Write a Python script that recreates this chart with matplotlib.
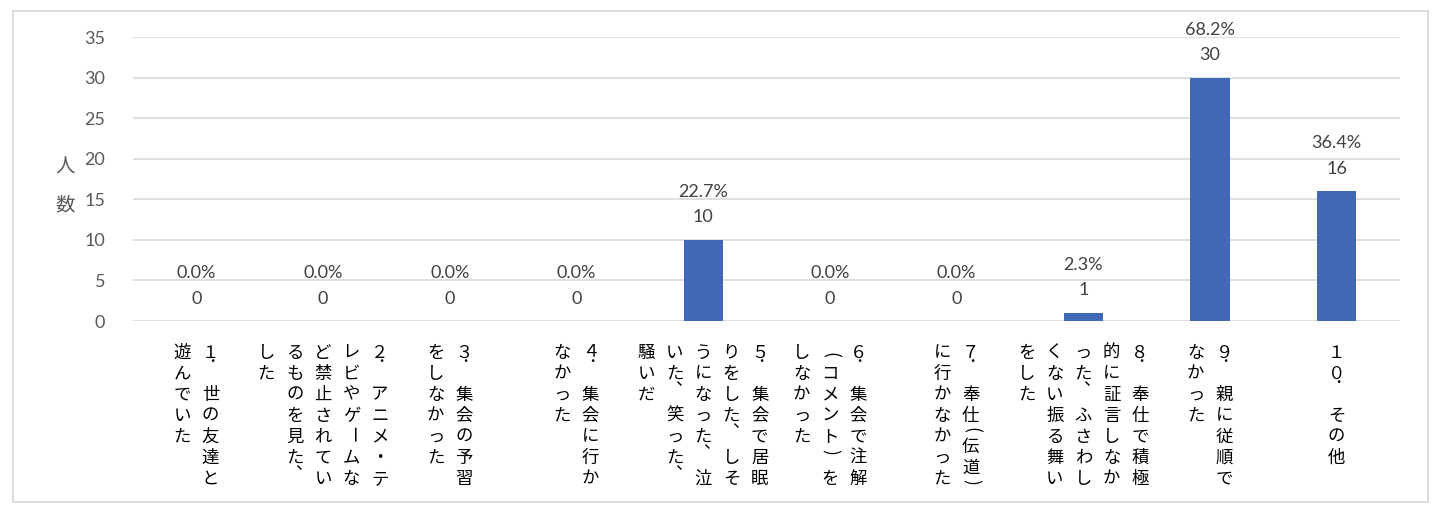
import matplotlib
matplotlib.use('Agg')
import matplotlib.pyplot as plt
import matplotlib.transforms as mtrans
from matplotlib.patches import Rectangle
import numpy as np

# ---------------- data ----------------
categories = [
    "１．世の友達と遊んでいた",
    "２．アニメ・テレビやゲームなど禁止されているものを見た、した",
    "３．集会の予習をしなかった",
    "４．集会に行かなかった",
    "５．集会で居眠りをした、しそうになった、泣いた、笑った、騒いだ",
    "６．集会で注解（コメント）をしなかった",
    "７．奉仕(伝道)に行かなかった",
    "８．奉仕で積極的に証言しなかった、ふさわしくない振る舞いをした",
    "９．親に従順でなかった",
    "１０．その他",
]
counts = [0, 0, 0, 0, 10, 0, 0, 1, 30, 16]
percents = ["0.0%", "0.0%", "0.0%", "0.0%", "22.7%", "0.0%", "0.0%", "2.3%", "68.2%", "36.4%"]
yticks = [0, 5, 10, 15, 20, 25, 30, 35]
ylabel = "人数"

# ---------------- layout ----------------
W, H, DPI = 1452, 516, 100
plt.rcParams['font.family'] = ['Lato', 'Noto Sans CJK JP', 'DejaVu Sans']
CJK = ['Noto Sans CJK JP', 'DejaVu Sans']

fig = plt.figure(figsize=(W / DPI, H / DPI), dpi=DPI)
fig.patch.set_facecolor('white')
ax = fig.add_axes([133 / W, (H - 321) / H, (1400 - 133) / W, (321 - 37) / H])

x = np.arange(len(categories))
ax.bar(x, counts, width=0.31, color='#4068B7', zorder=3)
ax.set_xlim(-0.5, len(categories) - 0.5)
ax.set_ylim(0, 35)
ax.set_yticks(yticks)
ax.set_xticks([])
ax.yaxis.grid(True, color='#d9d9d9', lw=1.2, zorder=0)
ax.set_axisbelow(True)
for s in ax.spines.values():
    s.set_visible(False)
ax.tick_params(axis='y', length=0, pad=20, labelsize=13, labelcolor='#595959')

# bar value labels
for xi, c, p in zip(x, counts, percents):
    ax.annotate(str(c), (xi, c), xytext=(0, 22.5 * 72 / DPI), textcoords='offset points',
                ha='center', va='center', fontsize=13, color='#404040')
    ax.annotate(p, (xi, c), xytext=(0, 48 * 72 / DPI), textcoords='offset points',
                ha='center', va='center', fontsize=13, color='#404040')

# vertical (tategaki) category labels
blend = mtrans.blended_transform_factory(ax.transData, fig.transFigure)
FS = 12.5
EM = FS * DPI / 72
PITCH = 21.0
COLSP = 28.3
Y0 = 340.5


def put(xcat, dx, ypix, ch, **kw):
    tr = blend + mtrans.ScaledTranslation(dx / DPI, 0, fig.dpi_scale_trans)
    ax.text(xcat, 1 - ypix / H, ch, transform=tr, clip_on=False,
            fontsize=FS, color='black', family=CJK, **kw)


def cw(ch):
    return 0.5 if ord(ch) < 128 else 1.0


def wrap(s, cap=7):
    cols, cur, used = [], [], 0.0
    for ch in s:
        w = cw(ch)
        if used + w > cap + 1e-9:
            cols.append(cur)
            cur, used = [], 0.0
        cur.append(ch)
        used += w
    if cur:
        cols.append(cur)
    return cols


for xi, label in zip(x, categories):
    cols = wrap(label)
    n = len(cols)
    for j, chars in enumerate(cols):
        xoff = ((n - 1) / 2 - j) * COLSP
        pos = Y0
        for ch in chars:
            adv = cw(ch) * PITCH
            cy = pos + adv / 2
            if ch == '．':
                put(xi, xoff + 6, cy - 10, ch, ha='center', va='baseline')
            elif ch == '、':
                put(xi, xoff + 9, cy - 8, ch, ha='center', va='baseline')
            elif ch == '（':
                put(xi, xoff, cy + 4, '(', ha='center', va='center', rotation=-90)
            elif ch == '）':
                put(xi, xoff, cy - 4, ')', ha='center', va='center', rotation=-90)
            elif ch in 'ー()':
                put(xi, xoff, cy, ch, ha='center', va='center', rotation=-90)
            else:
                put(xi, xoff, cy + 0.38 * EM, ch, ha='center', va='baseline')
            pos += adv

# y-axis title (vertical)
for k, ch in enumerate(ylabel):
    fig.text(65 / W, 1 - (167 + 38 * k) / H, ch, ha='center', va='center',
             fontsize=14, color='#595959', family=CJK)

# outer border
fig.add_artist(Rectangle((13 / W, 1 - 502 / H), (1428 - 13) / W, (502 - 11) / H,
                         transform=fig.transFigure, fill=False,
                         edgecolor='#d9d9d9', lw=1.3))

fig.savefig('out.png', dpi=DPI)
